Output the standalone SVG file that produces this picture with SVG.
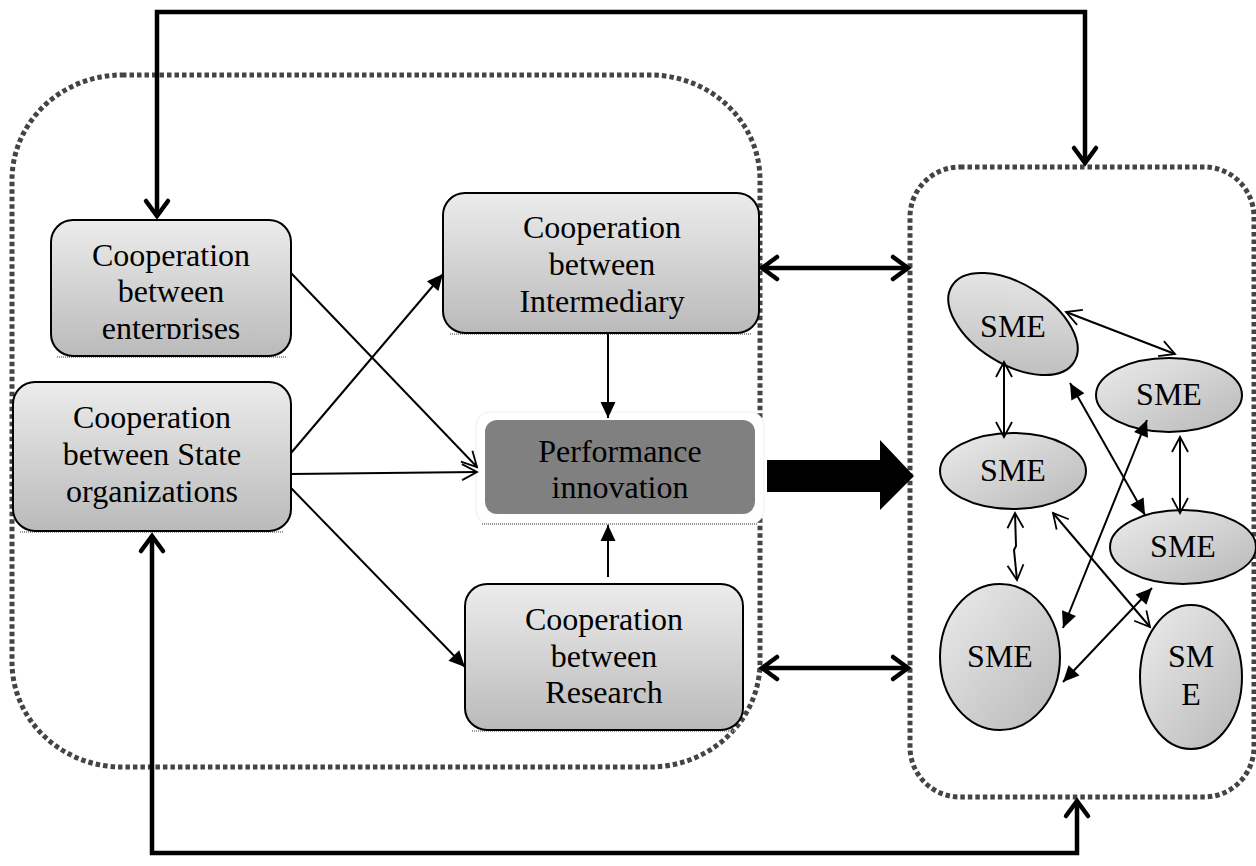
<svg xmlns="http://www.w3.org/2000/svg" width="1256" height="866" viewBox="0 0 1256 866">
<style>
.dash{fill:none;stroke:#444;stroke-width:5;stroke-dasharray:4.5 3}
.box{stroke:#000;stroke-width:2;fill:url(#gbox)}
.ell{stroke:#000;stroke-width:2;fill:url(#gell)}
.t{font-family:"Liberation Serif","Times New Roman",serif;font-size:32px;fill:#000;text-anchor:middle}
.thin{stroke:#000;stroke-width:2;fill:none}
.thick{stroke:#000;stroke-width:4.5;fill:none}
.shadow{fill:none;stroke:#9a9a9a;stroke-width:2;stroke-dasharray:1 1}
</style>
<defs>
<linearGradient id="gbox" x1="0" y1="0" x2="0" y2="1">
<stop offset="0" stop-color="#ececec"/>
<stop offset="1" stop-color="#bababa"/>
</linearGradient>
<linearGradient id="gell" x1="0" y1="0" x2="1" y2="1">
<stop offset="0" stop-color="#ececec"/>
<stop offset="1" stop-color="#b8b8b8"/>
</linearGradient>
<clipPath id="clipEnt"><rect x="40" y="210" width="260" height="129"/></clipPath>
<marker id="openThin" markerUnits="userSpaceOnUse" markerWidth="36" markerHeight="36" viewBox="-18 -18 36 36" refX="0" refY="0" orient="auto-start-reverse">
<path d="M-15,-8 L0,0 L-15,8" fill="none" stroke="#000" stroke-width="1.8"/>
</marker>
<marker id="fillThin" markerUnits="userSpaceOnUse" markerWidth="36" markerHeight="36" viewBox="-18 -18 36 36" refX="0" refY="0" orient="auto-start-reverse">
<path d="M-16,-7.5 L0,0 L-16,7.5 Z" fill="#000"/>
</marker>
<marker id="openThick" markerUnits="userSpaceOnUse" markerWidth="40" markerHeight="40" viewBox="-20 -20 40 40" refX="0" refY="0" orient="auto-start-reverse">
<path d="M-15,-11 L0,0 L-15,11" fill="none" stroke="#000" stroke-width="4.5" stroke-linecap="round" stroke-linejoin="miter"/>
</marker>
</defs>

<g id="containers">
<rect class="dash" x="12" y="75" width="748" height="692" rx="110" ry="105"/>
<rect class="dash" x="910" y="167" width="344" height="630" rx="50" ry="50"/>
</g>

<g id="n-enterprises">
<path class="shadow" d="M57,357 H286"/>
<rect class="box" x="51" y="220" width="240" height="136" rx="22"/>
<g clip-path="url(#clipEnt)">
<text class="t" x="171" y="266">Cooperation</text>
<text class="t" x="171" y="302">between</text>
<text class="t" x="171" y="339">enterprises</text>
</g>
</g>

<g id="n-state">
<path class="shadow" d="M20,532 H284"/>
<rect class="box" x="13" y="382" width="278" height="149" rx="22"/>
<text class="t" x="152" y="428">Cooperation</text>
<text class="t" x="152" y="465">between State</text>
<text class="t" x="152" y="502">organizations</text>
</g>

<g id="n-intermediary">
<path class="shadow" d="M450,334 H752"/>
<rect class="box" x="443" y="193" width="316" height="140" rx="22"/>
<text class="t" x="602" y="238">Cooperation</text>
<text class="t" x="602" y="275">between</text>
<text class="t" x="602" y="312">Intermediary</text>
</g>

<g id="n-performance">
<rect x="476" y="412" width="288" height="112" rx="14" fill="#fff" stroke="#eeeeee" stroke-width="1"/>
<path class="shadow" d="M482,524 H758"/>
<rect x="485" y="420" width="270" height="94" rx="12" fill="#808080"/>
<text class="t" x="620" y="462">Performance</text>
<text class="t" x="620" y="498">innovation</text>
</g>

<g id="n-research">
<path class="shadow" d="M472,731 H736"/>
<rect class="box" x="465" y="584" width="278" height="146" rx="22"/>
<text class="t" x="604" y="630">Cooperation</text>
<text class="t" x="604" y="667">between</text>
<text class="t" x="604" y="703">Research</text>
</g>

<g id="n-sme1">
<ellipse class="ell" cx="1013" cy="324" rx="72" ry="40" transform="rotate(32 1013 324)"/>
<text class="t" x="1013" y="337">SME</text>
</g>
<g id="n-sme2">
<ellipse class="ell" cx="1169" cy="395" rx="73" ry="37"/>
<text class="t" x="1169" y="405">SME</text>
</g>
<g id="n-sme3">
<ellipse class="ell" cx="1013" cy="471" rx="73" ry="38"/>
<text class="t" x="1013" y="481">SME</text>
</g>
<g id="n-sme4">
<ellipse class="ell" cx="1183" cy="547" rx="73" ry="37"/>
<text class="t" x="1183" y="557">SME</text>
</g>
<g id="n-sme5">
<ellipse class="ell" cx="1000" cy="657" rx="60" ry="73"/>
<text class="t" x="1000" y="667">SME</text>
</g>
<g id="n-sme6">
<ellipse class="ell" cx="1191" cy="677" rx="51" ry="72"/>
<text class="t" x="1191" y="667">SM</text>
<text class="t" x="1191" y="705">E</text>
</g>

<g id="connectors">
<polyline class="thick" points="157,216 157,12 1085,12 1085,163" marker-start="url(#openThick)" marker-end="url(#openThick)"/>
<polyline class="thick" points="152,536 152,853 1077,853 1077,801" marker-start="url(#openThick)" marker-end="url(#openThick)"/>
<line class="thick" x1="762" y1="268" x2="908" y2="268" marker-start="url(#openThick)" marker-end="url(#openThick)"/>
<line class="thick" x1="762" y1="668" x2="908" y2="668" marker-start="url(#openThick)" marker-end="url(#openThick)"/>
<path d="M767,460 H880 V440 L914,476 L880,510 V492 H767 Z" fill="#000"/>

<line class="thin" x1="291" y1="273" x2="477" y2="467" marker-end="url(#openThin)"/>
<line class="thin" x1="291" y1="474" x2="477" y2="472" marker-end="url(#openThin)"/>
<line class="thin" x1="291" y1="453" x2="443" y2="274" marker-end="url(#fillThin)"/>
<line class="thin" x1="291" y1="488" x2="465" y2="667" marker-end="url(#fillThin)"/>
<line class="thin" x1="608" y1="334" x2="608" y2="418" marker-end="url(#fillThin)"/>
<line class="thin" x1="608" y1="577" x2="608" y2="525" marker-end="url(#fillThin)"/>

<line class="thin" x1="1066" y1="312" x2="1175" y2="354" marker-start="url(#openThin)" marker-end="url(#openThin)"/>
<line class="thin" x1="1004" y1="362" x2="1004" y2="437" marker-start="url(#openThin)" marker-end="url(#openThin)"/>
<line class="thin" x1="1070" y1="383" x2="1145" y2="515" marker-start="url(#fillThin)" marker-end="url(#fillThin)"/>
<line class="thin" x1="1147" y1="420" x2="1063" y2="628" marker-start="url(#fillThin)" marker-end="url(#fillThin)"/>
<line class="thin" x1="1180" y1="437" x2="1180" y2="513" marker-start="url(#openThin)" marker-end="url(#openThin)"/>
<line class="thin" x1="1053" y1="513" x2="1150" y2="627" marker-start="url(#openThin)" marker-end="url(#openThin)"/>
<polyline class="thin" points="1015,513 1016,546 1014,550 1017,580" marker-start="url(#openThin)" marker-end="url(#openThin)"/>
<line class="thin" x1="1152" y1="588" x2="1063" y2="682" marker-start="url(#fillThin)" marker-end="url(#fillThin)"/>
</g>
</svg>
